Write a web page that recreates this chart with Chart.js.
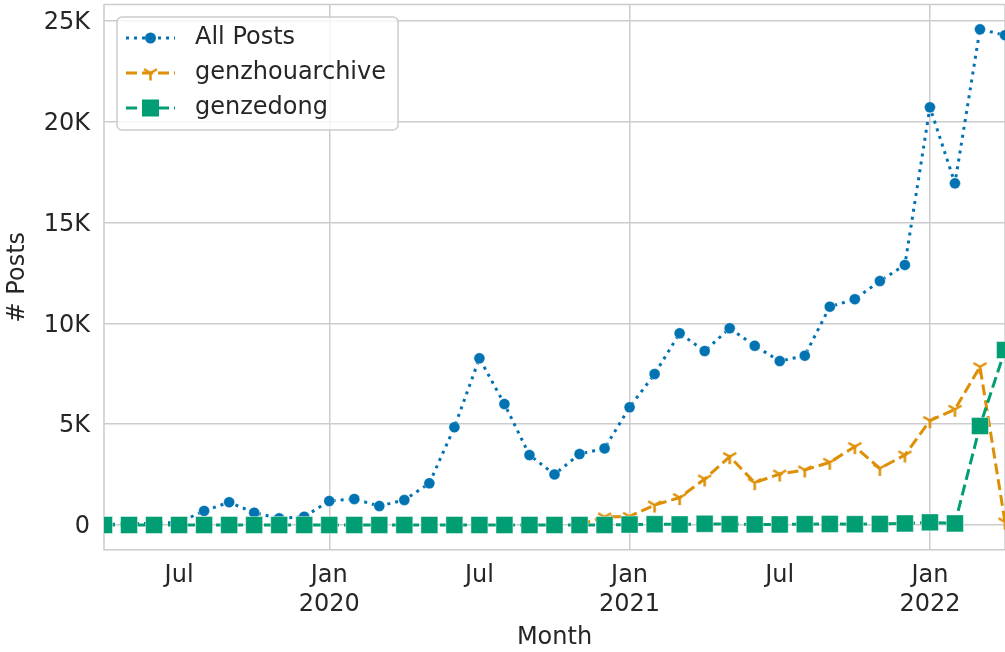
<!doctype html>
<html lang="en">
<head>
  <meta charset="utf-8">
  <title>Posts per Month</title>
  <script src="https://cdn.jsdelivr.net/npm/chart.js"></script>
  <style>
    html, body {
      margin: 0;
      padding: 0;
      background: #ffffff;
      overflow: hidden;
    }
    #postsChart {
      display: block;
    }
  </style>
</head>
<body>
  <canvas id="postsChart" width="1005" height="652"></canvas>

  <script>
    // Meses (abr 2019 - abr 2022)
    const months = [
      "2019-04", "2019-05", "2019-06", "2019-07", "2019-08", "2019-09", "2019-10", "2019-11", "2019-12",
      "2020-01", "2020-02", "2020-03", "2020-04", "2020-05", "2020-06", "2020-07", "2020-08", "2020-09",
      "2020-10", "2020-11", "2020-12",
      "2021-01", "2021-02", "2021-03", "2021-04", "2021-05", "2021-06", "2021-07", "2021-08", "2021-09",
      "2021-10", "2021-11", "2021-12",
      "2022-01", "2022-02", "2022-03", "2022-04"
    ];

    const allPosts = [
      30, 60, 90, 130, 700, 1130, 610, 330, 410,
      1190, 1290, 940, 1240, 2070, 4850, 8270, 6000, 3470,
      2510, 3520, 3800,
      5840, 7490, 9510, 8630, 9760, 8890, 8130, 8400, 10830,
      11200, 12100, 12900,
      20720, 16950, 24590, 24300
    ];

    const genzhouarchive = [
      null, null, null, null, null, null, null, null, null,
      null, null, null, null, null, null, null, null, null,
      null, 30, 400,
      420, 990, 1360, 2280, 3390, 2100, 2530, 2730, 3110,
      3890, 2810, 3470,
      5180, 5740, 7850, 150
    ];

    const genzedong = [
      0, 0, 0, 0, 0, 0, 0, 0, 0,
      0, 0, 0, 0, 0, 0, 0, 0, 0,
      0, 0, 0,
      20, 40, 30, 60, 40, 30, 30, 40, 50,
      40, 50, 80,
      130, 80, 4910, 8680
    ];

    const yTicks = [0, 5000, 10000, 15000, 20000, 25000];

    const BLUE = "#0173b2";
    const ORANGE = "#de8f05";
    const GREEN = "#029e73";
    const GRID = "#cccccc";
    const TEXT = "#262626";
    const FONT = "'DejaVu Sans', sans-serif";

    // Marcador "tri_down" (Y) dibujado en un canvas pequeño
    function makeTri(color, size, lw) {
      const c = document.createElement("canvas");
      c.width = size * 2 + 4;
      c.height = size * 2 + 4;
      const g = c.getContext("2d");
      const cx = c.width / 2, cy = c.height / 2;
      g.strokeStyle = color;
      g.lineWidth = lw;
      g.beginPath();
      g.moveTo(cx, cy); g.lineTo(cx, cy + size);
      g.moveTo(cx, cy); g.lineTo(cx - size * 0.866, cy - size * 0.5);
      g.moveTo(cx, cy); g.lineTo(cx + size * 0.866, cy - size * 0.5);
      g.stroke();
      return c;
    }
    const triMarker = makeTri(ORANGE, 7.5, 2.5);

    Chart.defaults.font.family = FONT;
    Chart.defaults.font.size = 24;
    Chart.defaults.color = TEXT;

    // Marco del área del gráfico
    const framePlugin = {
      id: "frame",
      beforeDatasetsDraw(chart) {
        const { ctx, chartArea: a } = chart;
        ctx.save();
        ctx.strokeStyle = GRID;
        ctx.lineWidth = 1.5;
        ctx.strokeRect(a.left, a.top, a.right - a.left, a.bottom - a.top);
        ctx.restore();
      }
    };

    // Leyenda estilo matplotlib
    const legendPlugin = {
      id: "mplLegend",
      afterDraw(chart) {
        const ctx = chart.ctx;
        const items = [
          { label: "All Posts", color: BLUE, dash: [3, 5], marker: "circle" },
          { label: "genzhouarchive", color: ORANGE, dash: [11, 5], marker: "tri" },
          { label: "genzedong", color: GREEN, dash: [11, 5], marker: "rect" }
        ];
        const x0 = 117, y0 = 17, w = 281, h = 113;
        ctx.save();
        ctx.beginPath();
        ctx.roundRect(x0, y0, w, h, 5);
        ctx.fillStyle = "rgba(255,255,255,0.8)";
        ctx.fill();
        ctx.strokeStyle = GRID;
        ctx.lineWidth = 1.5;
        ctx.stroke();

        items.forEach((it, i) => {
          const y = 38 + i * 35;
          ctx.strokeStyle = it.color;
          ctx.lineWidth = 3;
          ctx.setLineDash(it.dash);
          ctx.beginPath();
          ctx.moveTo(126, y);
          ctx.lineTo(175, y);
          ctx.stroke();
          ctx.setLineDash([]);
          ctx.fillStyle = it.color;
          if (it.marker === "circle") {
            ctx.beginPath();
            ctx.arc(150.5, y, 5.5, 0, Math.PI * 2);
            ctx.fill();
          } else if (it.marker === "rect") {
            ctx.fillRect(142, y - 8.5, 17, 17);
          } else {
            ctx.drawImage(triMarker, 150.5 - triMarker.width / 2, y - triMarker.height / 2);
          }
          ctx.fillStyle = TEXT;
          ctx.font = "24px " + FONT;
          ctx.textBaseline = "middle";
          ctx.textAlign = "left";
          ctx.fillText(it.label, 195, y);
        });
        ctx.restore();
      }
    };

    new Chart(document.getElementById("postsChart"), {
      type: "line",
      data: {
        labels: months,
        datasets: [
          {
            label: "All Posts",
            data: allPosts,
            order: 3,
            borderColor: BLUE,
            backgroundColor: BLUE,
            borderWidth: 3,
            borderDash: [3, 5],
            pointStyle: "circle",
            pointRadius: 5.5,
            pointBorderWidth: 0.75,
            pointBorderColor: "rgba(255,255,255,0.5)",
            pointBackgroundColor: BLUE,
            tension: 0,
            clip: 0
          },
          {
            label: "genzhouarchive",
            data: genzhouarchive,
            order: 2,
            borderColor: ORANGE,
            backgroundColor: ORANGE,
            borderWidth: 3,
            borderDash: [11, 5],
            pointStyle: triMarker,
            pointRadius: 8,
            tension: 0,
            clip: 0
          },
          {
            label: "genzedong",
            data: genzedong,
            order: 1,
            borderColor: GREEN,
            backgroundColor: GREEN,
            borderWidth: 3,
            borderDash: [11, 5],
            pointStyle: "rect",
            pointRadius: 12,
            pointBorderWidth: 1,
            pointBorderColor: "rgba(255,255,255,0.45)",
            pointBackgroundColor: GREEN,
            tension: 0,
            clip: 0
          }
        ]
      },
      options: {
        responsive: false,
        animation: false,
        layout: { autoPadding: false, padding: { top: 4.5, right: 0, left: 0, bottom: 0 } },
        plugins: {
          legend: { display: false },
          tooltip: { enabled: false }
        },
        scales: {
          x: {
            type: "category",
            offset: false,
            border: { display: false },
            grid: {
              drawTicks: false,
              lineWidth: 1.5,
              color: ctx => (months[ctx.index] || "").endsWith("-01") ? GRID : "rgba(0,0,0,0)"
            },
            ticks: {
              autoSkip: false,
              maxRotation: 0,
              minRotation: 0,
              padding: 12,
              color: TEXT,
              callback: function (value, index) {
                const m = months[index];
                if (m.endsWith("-07")) return "Jul";
                if (m.endsWith("-01")) return ["Jan", m.slice(0, 4)];
                return "";
              }
            },
            title: {
              display: true,
              text: "Month",
              color: TEXT,
              padding: { top: 0, bottom: 0 }
            },
            afterFit(scale) {
              scale.height = 652 - 549.8;
              scale.paddingLeft = 0;
              scale.paddingRight = 0;
            }
          },
          y: {
            min: -1230,
            max: 25820,
            border: { display: false },
            grid: { drawTicks: false, color: GRID, lineWidth: 1.5 },
            afterBuildTicks(scale) {
              scale.ticks = yTicks.map(v => ({ value: v }));
            },
            ticks: {
              padding: 14,
              labelOffset: 2,
              color: TEXT,
              callback: v => v === 0 ? "0" : (v / 1000) + "K"
            },
            title: {
              display: true,
              text: "# Posts",
              color: TEXT,
              padding: { top: 3, bottom: 0 }
            },
            afterFit(scale) {
              scale.width = 104;
              scale.paddingTop = 0;
              scale.paddingBottom = 0;
            }
          }
        }
      },
      plugins: [framePlugin, legendPlugin]
    });
  </script>
</body>
</html>
